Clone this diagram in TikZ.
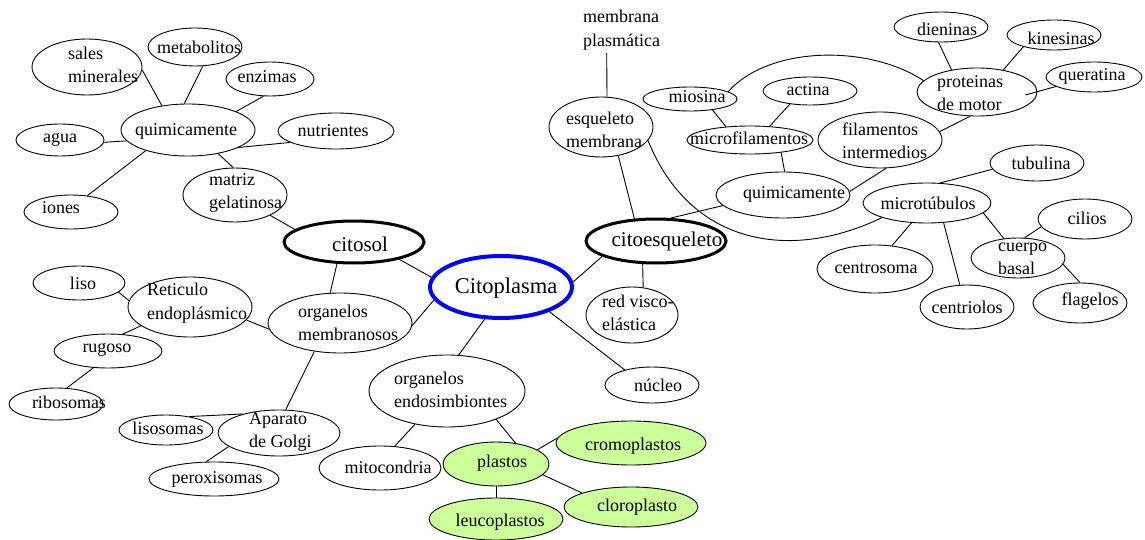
\documentclass[tikz,border=0pt]{standalone}
\usepackage{fontspec}
\setmainfont{Liberation Serif}
\usetikzlibrary{shapes.geometric}
\definecolor{plastgreen}{RGB}{204,255,153}

% one bubble: ellipse node plus its (possibly off-centre) caption
% #1 style, #2 name, #3 centre, #4 width, #5 height, #6 caption style, #7 caption position, #8 caption
\newcommand\eln[8]{%
  \node[#1, minimum width=#4pt, minimum height=#5pt] (#2) at (#3) {};
  \node[#6] (#2-txt) at (#7) {#8};}

\tikzset{
  bub/.style={ellipse, draw, line width=0.9pt, inner sep=0pt},
  main/.style={bub, line width=3pt},
  core/.style={bub, draw=blue, line width=4pt},
  plast/.style={bub, fill=plastgreen},
  lbl/.style={inner sep=0pt, align=left, font=\fontsize{18}{23.5}\selectfont},
  lblbig/.style={lbl, font=\fontsize{21}{25}\selectfont},
  lblcore/.style={lbl, font=\fontsize{22.5}{27}\selectfont},
  link/.style={line width=0.9pt},
}

\begin{document}
\begin{tikzpicture}[x=1pt, y=-1pt]
\useasboundingbox (0,0) rectangle (1145,540);

% --- citosol branch
\eln{bub}{sales}{87,67}{110}{56}{lbl,anchor=west}{68,65}{sales\\minerales}
\eln{bub}{metab}{195,47}{94}{38}{lbl}{199,47}{metabolitos}
\eln{bub}{enzimas}{270,79}{88}{34}{lbl}{267,77}{enzimas}
\eln{bub}{quimA}{188,130}{134}{52}{lbl}{186,131}{quimicamente}
\eln{bub}{agua}{60,140}{88}{32}{lbl}{60,140}{agua}
\eln{bub}{nutri}{336,131}{116}{36}{lbl}{333,131}{nutrientes}
\eln{bub}{iones}{71,212}{94}{34}{lbl}{61,208}{iones}
\eln{bub}{matriz}{235,195}{104}{54}{lbl,anchor=west}{209,193}{matriz\\gelatinosa}
\eln{main}{citosol}{354,242}{140}{42}{lblbig}{360,244}{citosol}

% --- membranous organelles
\eln{bub}{liso}{79,283}{92}{34}{lbl}{83,283}{liso}
\eln{bub}{retic}{190,307}{124}{60}{lbl,anchor=west}{147,303}{Reticulo\\endoplásmico}
\eln{bub}{rugoso}{108,351}{108}{34}{lbl}{107,350}{rugoso}
\eln{bub}{ribos}{56,404}{94}{32}{lbl}{69,402}{ribosomas}
\eln{bub}{orgmem}{340,323}{144}{60}{lbl,anchor=west}{298,323}{organelos\\membranosos}
\eln{bub}{golgi}{279,433}{122}{46}{lbl,anchor=west}{249,432}{Aparato\\de Golgi}
\eln{bub}{lisos}{166,430}{94}{30}{lbl}{168,428}{lisosomas}
\eln{bub}{perox}{214,479}{130}{34}{lbl}{217,479}{peroxisomas}

% --- centre
\eln{core}{citopl}{501,287}{142}{62}{lblcore}{506,288}{Citoplasma}
\eln{main}{citoesq}{656,241}{140}{44}{lblbig}{667,241}{citoesqueleto}
\eln{bub}{redvisco}{632,315}{92}{56}{lbl,anchor=west}{602,313}{red visco-\\elástica}
\eln{bub}{nucleo}{652,385}{94}{36}{lbl}{658,385}{núcleo}

% --- endosymbiotic organelles
\eln{bub}{orgendo}{447,391}{156}{72}{lbl,anchor=west}{394,390}{organelos\\endosimbiontes}
\eln{bub}{mitoc}{380,468}{122}{44}{lbl}{388,467}{mitocondria}
\eln{plast}{plastos}{496,464}{106}{44}{lbl}{502,463}{plastos}
\eln{plast}{cromo}{631,443}{150}{44}{lbl}{633,446}{cromoplastos}
\eln{plast}{cloro}{631,507}{134}{40}{lbl}{637,507}{cloroplasto}
\eln{plast}{leuco}{496,519}{134}{42}{lbl}{500,522}{leucoplastos}

% --- cytoskeleton branch
\node[lbl,anchor=west] (plasm) at (583,30) {membrana\\plasmática};
\eln{bub}{esqmem}{601,127}{104}{60}{lbl,anchor=west}{566,130}{esqueleto\\membrana}
\eln{bub}{miosina}{690,99}{94}{24}{lbl}{697,97}{miosina}
\eln{bub}{actina}{810,91}{94}{28}{lbl}{808,90}{actina}
\eln{bub}{microfil}{750,140}{126}{28}{lbl}{749,138}{microfilamentos}
\eln{bub}{filint}{880,140}{124}{56}{lbl,anchor=west}{842,141}{filamentos\\intermedios}
\eln{bub}{motor}{977,92}{120}{48}{lbl,anchor=west}{937,93}{proteinas\\de motor}
\eln{bub}{dien}{941,27}{94}{30}{lbl}{947,29}{dieninas}
\eln{bub}{kines}{1054,35}{94}{30}{lbl}{1061,38}{kinesinas}
\eln{bub}{querat}{1094,77}{96}{30}{lbl}{1092,76}{queratina}
\eln{bub}{quimB}{783,195}{134}{46}{lbl}{794,194}{quimicamente}
\eln{bub}{tubul}{1037,163}{94}{36}{lbl}{1041,163}{tubulina}
\eln{bub}{microtub}{927,203}{128}{40}{lbl}{928,203}{microtúbulos}
\eln{bub}{centros}{875,269}{116}{48}{lbl}{876,269}{centrosoma}
\eln{bub}{centri}{967,307}{94}{44}{lbl}{967,307}{centriolos}
\eln{bub}{cuerpo}{1018,258}{94}{40}{lbl,anchor=west}{998,259}{cuerpo\\basal}
\eln{bub}{cilios}{1085,219}{94}{40}{lbl}{1087,218}{cilios}
\eln{bub}{flag}{1080,303}{94}{40}{lbl}{1090,301}{flagelos}

% --- connectors
\draw[link] (sales.-3) -- (quimA.137);
\draw[link] (metab.-68) -- (quimA.98);
\draw[link] (enzimas.-111) -- (quimA.21);
\draw[link] (agua.-3) -- (quimA.190);
\draw[link] (nutri.-166) -- (quimA.-19);
\draw[link] (iones.45) -- (quimA.-154);
\draw[link] (quimA.-38) -- (matriz.94);
\draw[link] (matriz.-30) -- (citosol.168);
\draw[link] (liso.-13) -- (retic.174);
\draw[link] (retic.-159) -- (rugoso.49);
\draw[link] (rugoso.-131) -- (ribos.56);
\draw[link] (retic.-13) -- (orgmem.185);
\draw[link] (citosol.-128) -- (orgmem.108);
\draw[link] (orgmem.-132) -- (golgi.74);
\draw[link] (golgi.152) -- (lisos.30);
\draw[link] (golgi.-165) -- (perox.114);
\draw[link] (citosol.-21) -- (citopl.172);
\draw[link] (citopl.-169) -- (orgmem.-2);
\draw[link] (citopl.4) -- (citoesq.-164);
\draw[link] (citoesq.-120) -- (redvisco.68);
\draw[link] (citopl.-117) -- (orgendo.72);
\draw[link] (citopl.-27) -- (nucleo.151);
\draw[link] (orgendo.-134) -- (mitoc.56);
\draw[link] (orgendo.-30) -- (plastos.47);
\draw[link] (plastos.19) -- (cromo.176);
\draw[link] (plastos.-13) -- (cloro.164);
\draw[link] (plastos.south) -- (leuco.north);
\draw[link] ([xshift=-15pt,yshift=-3pt]plasm.south) -- ([xshift=6pt]esqmem.north);
\draw[link] (esqmem.-59) -- (citoesq.134);
\draw[link] (esqmem.-16) .. controls (690,245) and (790,262) .. (microtub.-162);
\draw[link] (miosina.11) .. controls (770,45) and (870,45) .. (motor.168);
\draw[link] (miosina.-26) -- (microfil.151);
\draw[link] (actina.-147) -- (microfil.35);
\draw[link] (microfil.-22) -- (quimB.86);
\draw[link] (quimB.-170) -- (citoesq.57);
\draw[link] (filint.-78) -- (quimB.3);
\draw[link] (motor.-106) -- (filint.8);
\draw[link] (dien.-99) -- (motor.139);
\draw[link] (kines.-159) -- (motor.40);
\draw[link] (querat.-166) -- ([xshift=-12pt,yshift=-3pt]motor.east);
\draw[link] (tubul.-172) -- (microtub.57);
\draw[link] (microtub.-128) -- (centros.54);
\draw[link] (microtub.-50) -- (centri.108);
\draw[link] (microtub.-10) -- (cuerpo.126);
\draw[link] (cuerpo.72) -- (cilios.-170);
\draw[link] (cuerpo.-8) -- (flag.90);
\end{tikzpicture}
\end{document}
